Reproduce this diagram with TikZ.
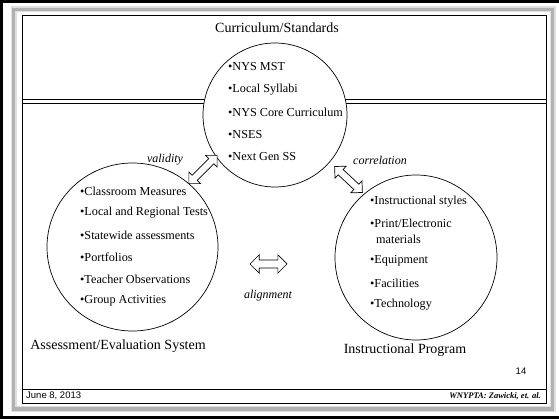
\documentclass[tikz,border=0pt]{standalone}
\usepackage{fontspec}
\setmainfont{Liberation Serif}
\newfontfamily\arialf{Liberation Sans}
\usetikzlibrary{shapes.arrows}
\tikzset{
  item/.style={anchor=west, inner sep=0pt, font=\fontsize{12.2}{14}\selectfont},
  heading/.style={inner sep=0pt, font=\fontsize{14}{16}\selectfont},
  relabel/.style={inner sep=0pt, font=\fontsize{12}{14}\selectfont\itshape},
  bubble/.style={draw, fill=white, line width=0.7pt},
  blockarrow/.style={double arrow, draw, fill=white, line width=0.7pt, inner xsep=0pt, inner ysep=3.3pt, double arrow head extend=4.6pt},
  footer/.style={inner sep=0pt, font=\arialf\fontsize{9.5}{11}\selectfont}
}
\begin{document}
\begin{tikzpicture}[x=1pt,y=-1pt]
\useasboundingbox (0,0) rectangle (559,419);
\fill[white] (0,0) rectangle (559,419);
% outer black border (left, top, bottom)
\draw[line width=3pt] (559,1.5) -- (1.5,1.5) -- (1.5,417.5) -- (559,417.5);
% gray shadow frame
\draw[line width=6pt, gray!25] (13.5,9.5) rectangle (552.5,409);
\draw[line width=3.5pt, gray!60] (13.5,9.5) rectangle (552.5,409);
% inner slide rectangle
\draw[line width=0.9pt] (22.5,15) rectangle (546.5,403);
\draw[line width=0.8pt] (22.5,389) -- (546.5,389);
% double horizontal line
\draw[line width=0.8pt] (22.5,99) -- (546.5,99);
\draw[line width=0.8pt] (22.5,103.5) -- (546.5,103.5);

% title
\node[heading] (title) at (277,28) {Curriculum/Standards};

% top circle
\node[bubble, circle, minimum size=144pt] (topc) at (275,115) {};
\node[item] (t1) at (228,67) {•NYS MST};
\node[item] (t2) at (228,89.5) {•Local Syllabi};
\node[item] (t3) at (228,112) {•NYS Core Curriculum};
\node[item] (t4) at (228,134.5) {•NSES};
\node[item] (t5) at (228,157) {•Next Gen SS};

% left circle
\draw[bubble] (132.5,247) ellipse (85.5 and 84);
\node (leftc) at (132.5,247) {};
\node[item] (l1) at (80,191) {•Classroom Measures};
\node[item] (l2) at (80,213) {•Local and Regional Tests};
\node[item] (l3) at (80,235) {•Statewide assessments};
\node[item] (l4) at (80,257) {•Portfolios};
\node[item] (l5) at (80,279) {•Teacher Observations};
\node[item] (l6) at (80,301) {•Group Activities};
\node[heading] (lt) at (118,346) {Assessment/Evaluation System};

% right circle
\draw[bubble] (416,257.5) ellipse (81 and 82.5);
\node (rightc) at (416,257.5) {};
\node[item] (r1) at (370,202) {•Instructional styles};
\node[item] (r2) at (370,223) {•Print/Electronic};
\node[item] (r2b) at (376,239) {materials};
\node[item] (r3) at (370,261) {•Equipment};
\node[item] (r4) at (370,283) {•Facilities};
\node[item] (r5) at (370,305) {•Technology};
\node[heading] (rt) at (405,350) {Instructional Program};

% relation arrows and labels
\node[blockarrow, minimum height=40pt, rotate=45] (va) at (203,169.5) {};
\node[relabel] (vl) at (165,160) {validity};
\node[blockarrow, minimum height=38pt, rotate=-43] (ca) at (348.5,179.5) {};
\node[relabel] (cl) at (380,160) {correlation};
\node[blockarrow, minimum height=37pt, inner ysep=3.6pt, double arrow head extend=5.2pt] (aa) at (268.5,264) {};
\node[relabel] (al) at (268,296) {alignment};

% footer
\node[footer] (pg) at (521,371) {14};
\node[footer, anchor=west] (date) at (26,396) {June 8, 2013};
\node[footer, anchor=east, font=\fontsize{8.5}{10}\selectfont\bfseries\itshape] (auth) at (541,396) {WNYPTA: Zawicki, et. al.};
\end{tikzpicture}
\end{document}
